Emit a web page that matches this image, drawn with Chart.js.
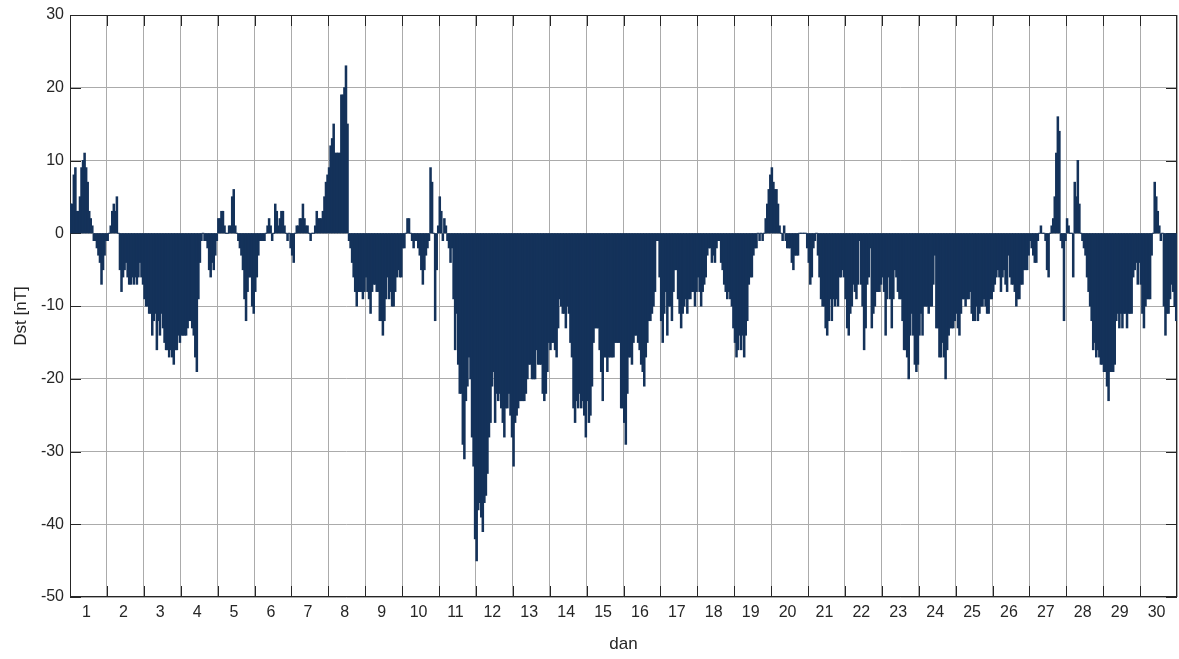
<!DOCTYPE html>
<html>
<head>
<meta charset="utf-8">
<script src="https://cdn.jsdelivr.net/npm/chart.js@4.4.1/dist/chart.umd.min.js"></script>
<style>
  html, body { margin: 0; padding: 0; background: #fff; }
  #okvir { width: 1179px; height: 659px; position: relative; }
</style>
</head>
<body>
<div id="okvir"><canvas id="dst_chart"></canvas></div>
<script>
// satne vrijednosti Dst [nT], 24 po danu
const dstSati = [
  4, 4, 8, 9, 3, 3, 5, 9, 10, 11, 9, 7, 3, 2, 1, -1, -1, -2, -3, -4, -7, -5, -3, -1, // 1
  -1, 0, 1, 3, 4, 3, 5, 0, -5, -8, -6, -5, -4, -6, -7, -7, -6, -7, -6, -7, -6, -4, -6, -7, // 2
  -9, -10, -10, -11, -11, -14, -12, -11, -16, -12, -14, -11, -13, -15, -16, -16, -17, -16, -17, -18, -16, -16, -14, -15, // 3
  -14, -14, -14, -14, -13, -12, -12, -13, -14, -17, -19, -9, -4, -1, 0, -1, -1, -2, -5, -6, -4, -5, -3, -1, // 4
  2, 2, 3, 3, 1, 0, 0, 1, 1, 5, 6, 1, 0, -1, -2, -3, -5, -9, -12, -8, -6, -6, -10, -11, // 5
  -8, -6, -3, -1, -1, -1, -1, 0, 1, 2, 1, -1, 0, 4, 3, 1, 2, 3, 3, 1, 0, -1, 0, -2, // 6
  -3, -4, 0, 1, 1, 2, 2, 4, 2, 1, 1, 0, -1, 0, 0, 1, 3, 2, 2, 2, 3, 5, 7, 8, // 7
  9, 12, 13, 15, 11, 11, 11, 11, 19, 19, 20, 23, 15, -1, -2, -4, -6, -8, -10, -8, -8, -8, -9, -8, // 8
  -6, -8, -9, -11, -8, -7, -7, -8, -8, -12, -12, -14, -12, -9, -6, -9, -8, -10, -10, -8, -6, -5, -6, -6, // 9
  -2, -2, 0, 2, 2, 0, -1, -2, -1, -1, -2, -3, -5, -7, -5, -3, -2, -1, 9, 7, 0, -12, -5, 1, // 10
  5, 3, -1, 2, 1, -1, -2, -4, -2, -9, -16, -11, -18, -22, -22, -29, -31, -23, -21, -17, -20, -28, -32, -42, // 11
  -45, -38, -37, -39, -41, -37, -36, -33, -28, -26, -21, -19, -26, -22, -23, -22, -24, -26, -28, -24, -24, -22, -25, -28, // 12
  -32, -26, -25, -24, -23, -23, -23, -23, -22, -20, -18, -18, -20, -20, -20, -16, -18, -18, -18, -22, -23, -22, -19, -15, // 13
  -16, -15, -15, -16, -17, -13, -9, -10, -11, -11, -13, -10, -11, -15, -17, -24, -26, -23, -24, -22, -24, -23, -25, -28, // 14
  -23, -26, -25, -21, -15, -13, -13, -13, -16, -19, -23, -17, -17, -19, -17, -17, -17, -17, -15, -15, -15, -15, -24, -24, // 15
  -26, -29, -22, -17, -17, -18, -15, -14, -14, -15, -16, -18, -19, -21, -17, -15, -12, -12, -11, -10, -8, -1, -1, -6, // 16
  -12, -15, -11, -8, -14, -10, -10, -12, -8, -5, -5, -9, -11, -13, -11, -10, -9, -11, -9, -9, -8, -8, -10, -8, // 17
  -6, -8, -10, -8, -7, -6, -3, -2, -2, -4, -3, -4, -2, -1, -1, -4, -5, -7, -8, -9, -8, -9, -10, -13, // 18
  -15, -17, -16, -14, -16, -14, -17, -14, -12, -7, -6, -6, -3, -2, -2, 0, -1, 0, -1, 0, 2, 4, 6, 8, // 19
  9, 7, 6, 6, 4, 1, 0, -1, 1, -1, -2, -2, -2, -4, -5, -3, -3, -3, 0, 0, 0, 0, 0, -2, // 20
  -4, -7, -6, -2, -1, 0, -3, -6, -9, -10, -10, -13, -14, -12, -9, -12, -9, -10, -9, -10, -6, -6, -5, -6, // 21
  -9, -13, -14, -11, -10, -7, -8, -9, -7, -1, -7, -10, -16, -13, -7, -6, -2, -13, -11, -10, -8, -8, -8, -7, // 22
  -6, -8, -14, -9, -6, -9, -13, -9, -5, -6, -8, -9, -9, -12, -16, -16, -17, -20, -14, -11, -14, -18, -19, -18, // 23
  -14, -11, -14, -10, -10, -10, -11, -10, -10, -7, -3, -13, -13, -17, -17, -15, -17, -20, -16, -14, -13, -13, -13, -12, // 24
  -11, -13, -14, -11, -9, -9, -10, -9, -9, -8, -11, -12, -12, -10, -12, -11, -10, -10, -9, -10, -11, -11, -9, -9, // 25
  -8, -7, -6, -5, -6, -8, -6, -5, -7, -8, -3, -6, -7, -7, -8, -10, -9, -9, -7, -7, -5, -5, -5, -3, // 26
  -1, -2, -3, -4, -4, -1, 0, 1, 0, 0, -1, -5, -6, 0, 1, 2, 5, 11, 16, 14, -1, -2, -12, -1, // 27
  2, 1, 0, 0, -6, 7, 5, 10, 4, 0, -1, -2, -3, -6, -8, -10, -12, -16, -15, -17, -16, -17, -18, -18, // 28
  -19, -19, -21, -23, -19, -19, -19, -18, -12, -11, -13, -11, -13, -11, -11, -13, -11, -11, -11, -6, -5, -4, -7, -4, // 29
  -7, -11, -13, -10, -9, -9, -9, -3, 0, 7, 5, 3, 1, -1, 0, -10, -14, -11, -11, -9, -7, -8, -10, -12 // 30
];
const daniLabele = ['1', '2', '3', '4', '5', '6', '7', '8', '9', '10', '11', '12', '13', '14', '15',
  '16', '17', '18', '19', '20', '21', '22', '23', '24', '25', '26', '27', '28', '29', '30'];
const yOznake = [-50, -40, -30, -20, -10, 0, 10, 20, 30];
const xNaslov = 'dan';
const yNaslov = 'Dst [nT]';
const sataPoDanu = 24;

const bojaStupaca = '#14325a';
const bojaMreze = '#ababab';
const bojaOsi = '#262626';
const obitelj = '"Liberation Sans", Arial, sans-serif';
const fontOznake = { family: obitelj, size: 16 };
const fontNaslov = { family: obitelj, size: 17 };

function tockeDst(vrijednosti) {
  let tocke = [];
  for (let i = 0; i < vrijednosti.length; i++) {
    tocke.push({ x: (i + 0.5) / sataPoDanu, y: vrijednosti[i] });
  }
  return tocke;
}

// okvir, kratke crtice prema unutra (kao u matlabu) i naslov y osi
const okvirOsi = {
  id: 'okvirOsi',
  beforeDatasetsDraw(chart) {
    const ctx = chart.ctx;
    const a = chart.chartArea;
    const sx = chart.scales.x;
    const sy = chart.scales.y;
    ctx.save();
    ctx.strokeStyle = bojaOsi;
    ctx.lineWidth = 1;
    ctx.beginPath();
    yOznake.forEach(function (v) {
      const y = Math.round(sy.getPixelForValue(v)) + 0.5;
      ctx.moveTo(a.left, y);
      ctx.lineTo(a.left + 11, y);
      ctx.moveTo(a.right, y);
      ctx.lineTo(a.right - 11, y);
    });
    for (let d = 1; d < daniLabele.length; d++) {
      const x = Math.round(sx.getPixelForValue(d)) + 0.5;
      ctx.moveTo(x, a.bottom);
      ctx.lineTo(x, a.bottom - 11);
      ctx.moveTo(x, a.top);
      ctx.lineTo(x, a.top + 11);
    }
    ctx.stroke();
    ctx.strokeRect(a.left + 0.5, a.top + 0.5, a.right - a.left - 1, a.bottom - a.top - 1);

    ctx.translate(21, (a.top + a.bottom) / 2 + 10);
    ctx.rotate(-Math.PI / 2);
    ctx.fillStyle = bojaOsi;
    ctx.font = fontNaslov.size + 'px ' + obitelj;
    ctx.textAlign = 'center';
    ctx.textBaseline = 'middle';
    ctx.fillText(yNaslov, 0, 0);
    ctx.restore();
  }
};

function plotarDst() {
  const ctx = document.getElementById('dst_chart').getContext('2d');
  new Chart(ctx, {
    type: 'bar',
    data: {
      datasets: [{
        label: 'Dst',
        data: tockeDst(dstSati),
        backgroundColor: bojaStupaca,
        borderWidth: 0,
        barPercentage: 1,
        categoryPercentage: 1,
        inflateAmount: 0.5
      }]
    },
    options: {
      responsive: true,
      maintainAspectRatio: false,
      animation: false,
      events: [],
      layout: { padding: { left: 0, right: 2, top: 15, bottom: 0 } },
      plugins: { legend: { display: false }, tooltip: { enabled: false } },
      scales: {
        x: {
          type: 'linear',
          min: 0,
          max: daniLabele.length,
          offset: false,
          afterBuildTicks: function (scale) {
            let t = [];
            for (let v = 0; v <= daniLabele.length * 2; v++) t.push({ value: v / 2 });
            scale.ticks = t;
          },
          afterFit: function (scale) {
            scale.height = 62;
            scale.paddingLeft = 0;
            scale.paddingRight = 0;
          },
          grid: {
            offset: false,
            drawTicks: false,
            color: function (c) {
              return c.tick && c.tick.value % 1 === 0 ? bojaMreze : 'rgba(0,0,0,0)';
            }
          },
          border: { display: false },
          ticks: {
            autoSkip: false,
            maxRotation: 0,
            padding: 6,
            labelOffset: -2,
            color: bojaOsi,
            font: fontOznake,
            callback: function (v) {
              return v % 1 === 0.5 ? daniLabele[Math.floor(v)] : '';
            }
          },
          title: { display: true, text: xNaslov, color: bojaOsi, font: fontNaslov, padding: { top: 0, bottom: 4 } }
        },
        y: {
          min: -50,
          max: 30,
          afterBuildTicks: function (scale) {
            scale.ticks = yOznake.map(function (v) { return { value: v }; });
          },
          afterFit: function (scale) {
            scale.width = 70;
            scale.paddingTop = 0;
            scale.paddingBottom = 0;
          },
          grid: { color: bojaMreze, drawTicks: false },
          border: { display: false },
          ticks: { padding: 6, color: bojaOsi, font: fontOznake },
          title: { display: false }
        }
      }
    },
    plugins: [okvirOsi]
  });
}

plotarDst();
</script>
</body>
</html>
